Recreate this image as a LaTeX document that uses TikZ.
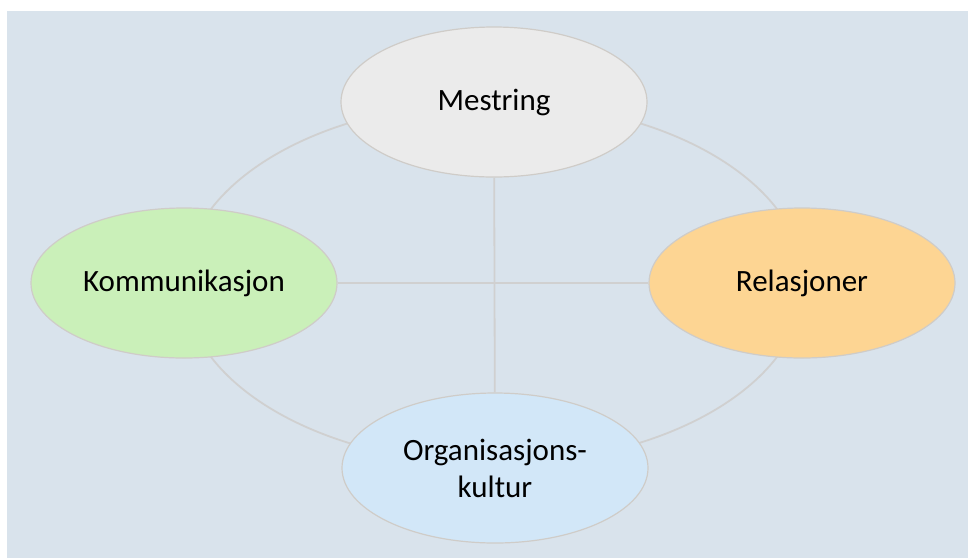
\documentclass[tikz,border=0pt]{standalone}
\usepackage{fontspec}
\setmainfont{Carlito}
\usepackage{xcolor}
\usepackage{tikz}
\usetikzlibrary{shapes.geometric}
\definecolor{bg}{HTML}{D9E3EC}
\definecolor{rim}{HTML}{CFCCC8}
\definecolor{link}{HTML}{D0D0D0}
\definecolor{greyfill}{HTML}{EBEBEB}
\definecolor{greenfill}{HTML}{CAF0B9}
\definecolor{orangefill}{HTML}{FDD593}
\definecolor{bluefill}{HTML}{D2E7F8}
\tikzset{
  area/.style={ellipse, draw=rim, line width=1.2pt, minimum width=306pt,
    minimum height=150pt, inner sep=0pt, align=center,
    font=\fontsize{31}{37}\selectfont},
  conn/.style={draw=link, line width=1.8pt}
}

\begin{document}
\begin{tikzpicture}[x=1pt,y=-1pt]
  \useasboundingbox (0,0) rectangle (968,558);
  \fill[bg] (7,11) rectangle (968,558);

  \coordinate (mid) at (494,283);
  % frame behind the four fields
  \draw[conn] (mid) ellipse [x radius=310, y radius=181];

  \node[area, fill=greyfill] (mestring) at (494,102) {Mestring};
  \node[area, fill=greenfill] (komm) at (184,283) {Kommunikasjon};
  \node[area, fill=orangefill] (rel) at (802,283) {Relasjoner};
  \node[area, fill=bluefill] (org) at (495,468) {Organisasjons-\\kultur};

  \draw[conn] (komm) -- (rel);
  \draw[conn] (mestring) -- (org);
\end{tikzpicture}
\end{document}
